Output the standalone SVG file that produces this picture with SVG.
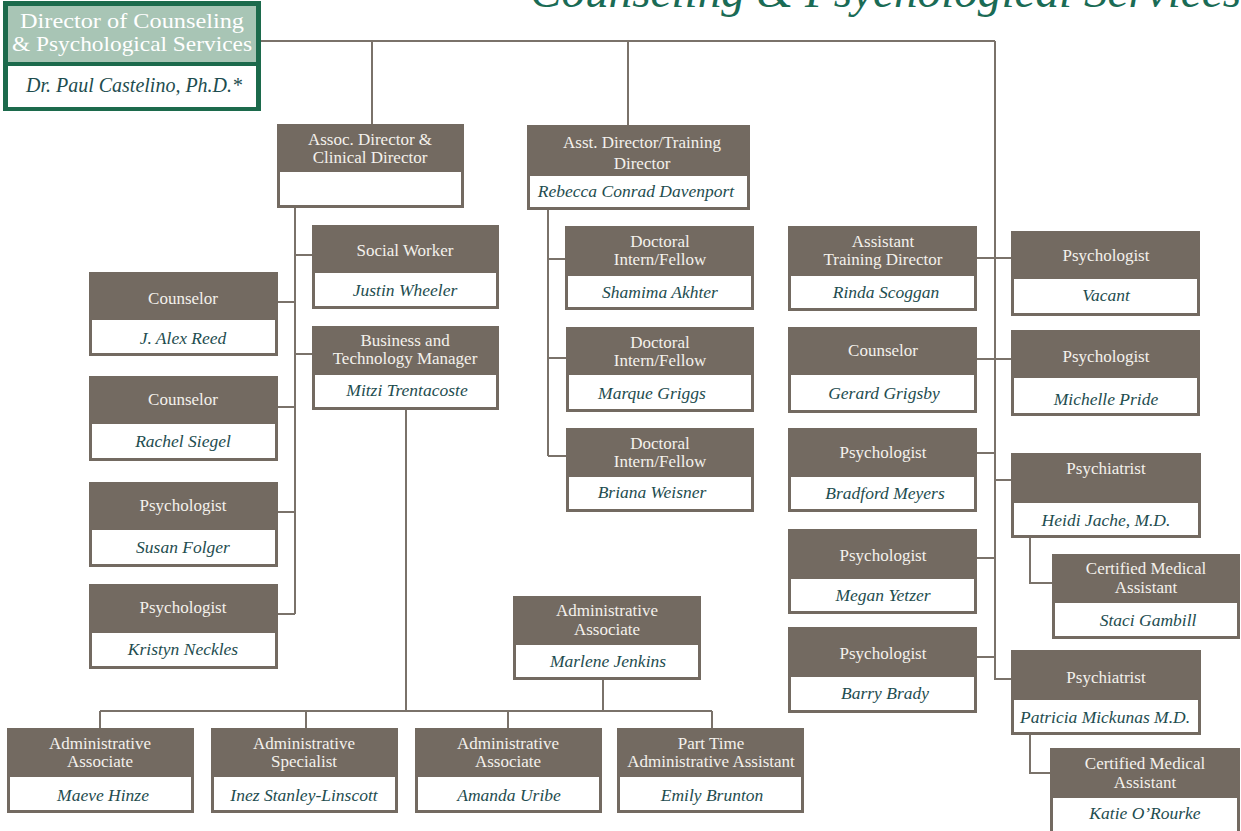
<svg xmlns="http://www.w3.org/2000/svg" width="1241" height="831" viewBox="0 0 1241 831">
<style>
.box{fill:#736a61}
.inner{fill:#ffffff}
.hdr{font-family:"Liberation Serif",serif;font-size:17px;fill:#f4f1ec;text-anchor:middle}
.name{font-family:"Liberation Serif",serif;font-style:italic;font-size:17.5px;fill:#1e4d4f;text-anchor:middle}
.conn{stroke:#7a726a;stroke-width:2;fill:none}
.title{font-family:"Liberation Serif",serif;font-style:italic;font-size:46px;fill:#1a6b55}
.dirhdr{font-family:"Liberation Serif",serif;font-size:22px;fill:#ffffff;text-anchor:middle}
</style>
<rect width="1241" height="831" fill="#ffffff"/>
<text class="title" x="530" y="7" textLength="711" lengthAdjust="spacingAndGlyphs">Counseling &amp; Psychological Services</text>
<g id="connectors">
<path class="conn" d="M259 41 H995 M372 41 V124 M628 41 V125 M995 41 V679 H1011"/>
<path class="conn" d="M295 207 V614 M295 255 H312 M278 302 H295 M295 354 H312 M278 407 H295 M278 512 H295 M278 614 H295"/>
<path class="conn" d="M406 410 V711 M100 711 H712 M100 711 V728 M306 711 V728 M508 711 V728 M712 711 V728 M603 680 V711"/>
<path class="conn" d="M548 210 V456 M548 259 H565 M548 358 H566 M548 456 H566"/>
<path class="conn" d="M977 258 H1011 M977 359 H1011 M977 453 H995 M995 480 H1011 M977 558 H995 M977 657 H995"/>
<path class="conn" d="M1030 538 V583 H1052 M1030 735 V773 H1050"/>
</g>
<g id="director">
<rect x="3" y="1" width="258" height="110" fill="#1c6a4c"/>
<rect x="8" y="6" width="248" height="56" fill="#a8c5b5"/>
<rect x="8" y="66" width="248" height="41" fill="#ffffff"/>
<text class="dirhdr" x="132" y="28" textLength="224" lengthAdjust="spacingAndGlyphs">Director of Counseling</text>
<text class="dirhdr" x="132" y="51" textLength="240" lengthAdjust="spacingAndGlyphs">&amp; Psychological Services</text>
<text x="134" y="92" font-family="Liberation Serif,serif" font-style="italic" font-size="20" fill="#1e4d4f" text-anchor="middle">Dr. Paul Castelino, Ph.D.*</text>
</g>
<g id="assoc">
<rect class="box" x="277" y="124" width="187" height="84"/>
<rect class="inner" x="280" y="172" width="181" height="33"/>
<text class="hdr" x="370" y="145">Assoc. Director &amp;</text>
<text class="hdr" x="370" y="163">Clinical Director</text>
</g>
<g id="asst">
<rect class="box" x="527" y="125" width="223" height="85"/>
<rect class="inner" x="530" y="176" width="217" height="31"/>
<text class="hdr" x="642" y="148">Asst. Director/Training</text>
<text class="hdr" x="642" y="169">Director</text>
<text class="name" x="636" y="197">Rebecca Conrad Davenport</text>
</g>
<g id="socialworker">
<rect class="box" x="312" y="225" width="187" height="84"/>
<rect class="inner" x="315" y="273" width="181" height="33"/>
<text class="hdr" x="405" y="256">Social Worker</text>
<text class="name" x="405" y="296">Justin Wheeler</text>
</g>
<g id="reed">
<rect class="box" x="89" y="272" width="189" height="84"/>
<rect class="inner" x="92" y="320" width="183" height="33"/>
<text class="hdr" x="183" y="304">Counselor</text>
<text class="name" x="183" y="344">J. Alex Reed</text>
</g>
<g id="siegel">
<rect class="box" x="89" y="376" width="189" height="85"/>
<rect class="inner" x="92" y="424" width="183" height="34"/>
<text class="hdr" x="183" y="405">Counselor</text>
<text class="name" x="183" y="447">Rachel Siegel</text>
</g>
<g id="folger">
<rect class="box" x="89" y="482" width="189" height="85"/>
<rect class="inner" x="92" y="530" width="183" height="34"/>
<text class="hdr" x="183" y="511">Psychologist</text>
<text class="name" x="183" y="553">Susan Folger</text>
</g>
<g id="neckles">
<rect class="box" x="89" y="584" width="189" height="85"/>
<rect class="inner" x="92" y="633" width="183" height="33"/>
<text class="hdr" x="183" y="613">Psychologist</text>
<text class="name" x="183" y="655">Kristyn Neckles</text>
</g>
<g id="business">
<rect class="box" x="312" y="326" width="187" height="84"/>
<rect class="inner" x="315" y="375" width="181" height="32"/>
<text class="hdr" x="405" y="346">Business and</text>
<text class="hdr" x="405" y="364">Technology Manager</text>
<text class="name" x="407" y="396">Mitzi Trentacoste</text>
</g>
<g id="marlene">
<rect class="box" x="513" y="596" width="188" height="84"/>
<rect class="inner" x="516" y="645" width="182" height="32"/>
<text class="hdr" x="607" y="616">Administrative</text>
<text class="hdr" x="607" y="635">Associate</text>
<text class="name" x="608" y="667">Marlene Jenkins</text>
</g>
<g id="maeve">
<rect class="box" x="7" y="728" width="187" height="85"/>
<rect class="inner" x="10" y="777" width="181" height="33"/>
<text class="hdr" x="100" y="749">Administrative</text>
<text class="hdr" x="100" y="767">Associate</text>
<text class="name" x="103" y="801">Maeve Hinze</text>
</g>
<g id="inez">
<rect class="box" x="211" y="728" width="187" height="85"/>
<rect class="inner" x="214" y="777" width="181" height="33"/>
<text class="hdr" x="304" y="749">Administrative</text>
<text class="hdr" x="304" y="767">Specialist</text>
<text class="name" x="304" y="801">Inez Stanley-Linscott</text>
</g>
<g id="amanda">
<rect class="box" x="415" y="728" width="187" height="85"/>
<rect class="inner" x="418" y="777" width="181" height="33"/>
<text class="hdr" x="508" y="749">Administrative</text>
<text class="hdr" x="508" y="767">Associate</text>
<text class="name" x="509" y="801">Amanda Uribe</text>
</g>
<g id="emily">
<rect class="box" x="617" y="728" width="187" height="85"/>
<rect class="inner" x="620" y="777" width="181" height="33"/>
<text class="hdr" x="711" y="749">Part Time</text>
<text class="hdr" x="711" y="767" font-size="16.5">Administrative Assistant</text>
<text class="name" x="712" y="801">Emily Brunton</text>
</g>
<g id="shamima">
<rect class="box" x="565" y="226" width="189" height="84"/>
<rect class="inner" x="568" y="276" width="183" height="31"/>
<text class="hdr" x="660" y="247">Doctoral</text>
<text class="hdr" x="660" y="265">Intern/Fellow</text>
<text class="name" x="660" y="298">Shamima Akhter</text>
</g>
<g id="marque">
<rect class="box" x="566" y="327" width="188" height="85"/>
<rect class="inner" x="569" y="375" width="182" height="34"/>
<text class="hdr" x="660" y="348">Doctoral</text>
<text class="hdr" x="660" y="366">Intern/Fellow</text>
<text class="name" x="652" y="399">Marque Griggs</text>
</g>
<g id="briana">
<rect class="box" x="566" y="428" width="188" height="84"/>
<rect class="inner" x="569" y="477" width="182" height="32"/>
<text class="hdr" x="660" y="449">Doctoral</text>
<text class="hdr" x="660" y="467">Intern/Fellow</text>
<text class="name" x="652" y="498">Briana Weisner</text>
</g>
<g id="rinda">
<rect class="box" x="788" y="226" width="189" height="85"/>
<rect class="inner" x="791" y="276" width="183" height="32"/>
<text class="hdr" x="883" y="247">Assistant</text>
<text class="hdr" x="883" y="265">Training Director</text>
<text class="name" x="886" y="298">Rinda Scoggan</text>
</g>
<g id="vacant">
<rect class="box" x="1011" y="231" width="189" height="85"/>
<rect class="inner" x="1014" y="279" width="183" height="34"/>
<text class="hdr" x="1106" y="261">Psychologist</text>
<text class="name" x="1106" y="301">Vacant</text>
</g>
<g id="grigsby">
<rect class="box" x="788" y="327" width="189" height="86"/>
<rect class="inner" x="791" y="375" width="183" height="35"/>
<text class="hdr" x="883" y="356">Counselor</text>
<text class="name" x="884" y="399">Gerard Grigsby</text>
</g>
<g id="pride">
<rect class="box" x="1011" y="330" width="189" height="86"/>
<rect class="inner" x="1014" y="378" width="183" height="35"/>
<text class="hdr" x="1106" y="362">Psychologist</text>
<text class="name" x="1106" y="405">Michelle Pride</text>
</g>
<g id="meyers">
<rect class="box" x="788" y="428" width="189" height="84"/>
<rect class="inner" x="791" y="477" width="183" height="32"/>
<text class="hdr" x="883" y="458">Psychologist</text>
<text class="name" x="885" y="499">Bradford Meyers</text>
</g>
<g id="heidi">
<rect class="box" x="1011" y="453" width="190" height="85"/>
<rect class="inner" x="1014" y="503" width="184" height="32"/>
<text class="hdr" x="1106" y="474">Psychiatrist</text>
<text class="name" x="1106" y="526">Heidi Jache, M.D.</text>
</g>
<g id="staci">
<rect class="box" x="1052" y="554" width="188" height="85"/>
<rect class="inner" x="1055" y="603" width="182" height="33"/>
<text class="hdr" x="1146" y="574">Certified Medical</text>
<text class="hdr" x="1146" y="593">Assistant</text>
<text class="name" x="1148" y="626">Staci Gambill</text>
</g>
<g id="yetzer">
<rect class="box" x="788" y="529" width="189" height="85"/>
<rect class="inner" x="791" y="579" width="183" height="32"/>
<text class="hdr" x="883" y="561">Psychologist</text>
<text class="name" x="883" y="601">Megan Yetzer</text>
</g>
<g id="brady">
<rect class="box" x="788" y="627" width="189" height="86"/>
<rect class="inner" x="791" y="677" width="183" height="33"/>
<text class="hdr" x="883" y="659">Psychologist</text>
<text class="name" x="885" y="699">Barry Brady</text>
</g>
<g id="patricia">
<rect class="box" x="1011" y="650" width="190" height="85"/>
<rect class="inner" x="1014" y="700" width="184" height="32"/>
<text class="hdr" x="1106" y="683">Psychiatrist</text>
<text class="name" x="1105" y="723">Patricia Mickunas M.D.</text>
</g>
<g id="katie">
<rect class="box" x="1050" y="748" width="190" height="90"/>
<rect class="inner" x="1053" y="798" width="184" height="40"/>
<text class="hdr" x="1145" y="769">Certified Medical</text>
<text class="hdr" x="1145" y="788">Assistant</text>
<text class="name" x="1145" y="819">Katie O’Rourke</text>
</g>
</svg>
